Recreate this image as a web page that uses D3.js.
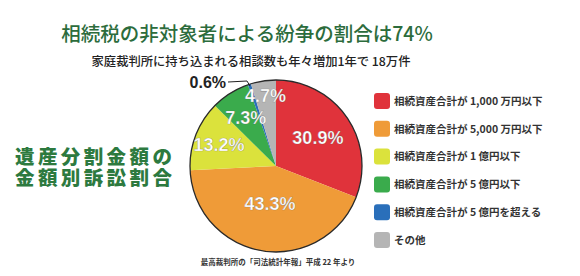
<!DOCTYPE html>
<html>
<head>
<meta charset="utf-8">
<script src="https://cdn.jsdelivr.net/npm/d3@7"></script>
<style>
  body { margin: 0; background: #fff; }
  svg { display: block; }
</style>
</head>
<body>
<svg id="chart" width="580" height="276"></svg>
<script>
// data
const categories = [
  "相続資産合計が 1,000 万円以下",
  "相続資産合計が 5,000 万円以下",
  "相続資産合計が 1 億円以下",
  "相続資産合計が 5 億円以下",
  "相続資産合計が 5 億円を超える",
  "その他"
];
const shares = [30.9, 43.3, 13.2, 7.3, 0.6, 4.7];
const colors = ["#e0333b", "#ef9b38", "#dbe23c", "#3aab4c", "#2a6fba", "#b5b5b5"];
// label distance from center, as a fraction of the radius
const labelRadius = [0.59, 0.44, 0.71, 0.66, 0, 0.83];

const titleText = "相続税の非対象者による紛争の割合は74%";
const subtitleText = "家庭裁判所に持ち込まれる相談数も年々増加1年で 18万件";
const sideText = ["遺産分割金額の", "金額別訴訟割合"];
const sourceText = "最高裁判所の「司法統計年報」平成 22 年より";

const svg = d3.select("#chart");
const cx = 276, cy = 166, R = 86;

// titles
svg.append("text")
  .attr("x", 247).attr("y", 41)
  .attr("text-anchor", "middle")
  .style("font-family", "'Noto Sans CJK JP', sans-serif")
  .style("font-weight", 500)
  .style("font-size", "19.5px")
  .style("fill", "#2c6c3c")
  .text(titleText);

svg.append("text")
  .attr("x", 251).attr("y", 66)
  .attr("text-anchor", "middle")
  .style("font-family", "'Noto Sans CJK JP', sans-serif")
  .style("font-weight", 500)
  .style("font-size", "12.3px")
  .style("fill", "#222")
  .text(subtitleText);

// two-line side heading, one text element
const side = svg.append("text")
  .attr("y", 164)
  .style("font-family", "'Noto Sans CJK JP', sans-serif")
  .style("font-weight", 900)
  .style("font-size", "19.5px")
  .style("letter-spacing", "3.4px")
  .style("fill", "#2d7a3f");
side.selectAll("tspan")
  .data(sideText)
  .enter()
  .append("tspan")
  .attr("x", 15)
  .attr("dy", (d, i) => i === 0 ? 0 : 21)
  .text(d => d);

// pie
const pie = d3.pie().sort(null).value(d => d);
const arcs = pie(shares);
const arc = d3.arc().innerRadius(0).outerRadius(R);

const g = svg.append("g").attr("transform", `translate(${cx},${cy})`);

g.selectAll("path.slice")
  .data(arcs)
  .enter()
  .append("path")
  .attr("class", "slice")
  .attr("d", arc)
  .attr("fill", (d, i) => colors[i]);

g.append("circle")
  .attr("r", R)
  .attr("fill", "none")
  .attr("stroke", "#2a2a2a")
  .attr("stroke-width", 1.3);

// labels inside slices
g.selectAll("text.lbl")
  .data(arcs.filter((d, i) => labelRadius[i] > 0))
  .enter()
  .append("text")
  .attr("class", "lbl")
  .attr("transform", d => {
    const a = (d.startAngle + d.endAngle) / 2;
    const r = labelRadius[d.index] * R;
    return `translate(${Math.sin(a) * r},${-Math.cos(a) * r})`;
  })
  .attr("text-anchor", "middle")
  .attr("dy", "0.36em")
  .style("font-family", "'Liberation Sans', Arial, sans-serif")
  .style("font-weight", "bold")
  .style("font-size", "18px")
  .style("fill", "#fff")
  .style("stroke", "rgba(60,60,60,0.35)")
  .style("stroke-width", 0.6)
  .text(d => d3.format(".1f")(d.data) + "%");

// small slice label with leader line
const small = arcs[4];
const sa = (small.startAngle + small.endAngle) / 2;
const edge = [Math.sin(sa) * (R - 2), -Math.cos(sa) * (R - 2)];
g.append("path")
  .attr("d", d3.line()([[-48, -84], [-29, -85], edge]))
  .attr("fill", "none")
  .attr("stroke", "#222")
  .attr("stroke-width", 1);
g.append("text")
  .attr("x", -50).attr("y", -78)
  .attr("text-anchor", "end")
  .style("font-family", "'Liberation Sans', Arial, sans-serif")
  .style("font-weight", "bold")
  .style("font-size", "16px")
  .style("fill", "#222")
  .text(d3.format(".1f")(small.data) + "%");

// legend
const legend = svg.selectAll("g.legend")
  .data(categories)
  .enter()
  .append("g")
  .attr("class", "legend")
  .attr("transform", (d, i) => `translate(374,${93 + i * 27.8})`);

legend.append("rect")
  .attr("width", 16).attr("height", 16)
  .attr("rx", 3)
  .attr("fill", (d, i) => colors[i]);

legend.append("text")
  .attr("x", 20).attr("y", 8)
  .attr("dy", "0.36em")
  .style("font-family", "'Noto Sans CJK JP', sans-serif")
  .style("font-weight", 700)
  .style("font-size", "10.5px")
  .style("fill", "#333")
  .text(d => d);

// source
svg.append("text")
  .attr("x", 278).attr("y", 265)
  .attr("text-anchor", "middle")
  .style("font-family", "'Noto Sans CJK JP', sans-serif")
  .style("font-weight", 700)
  .style("font-size", "7.5px")
  .style("fill", "#333")
  .text(sourceText);
</script>
</body>
</html>
